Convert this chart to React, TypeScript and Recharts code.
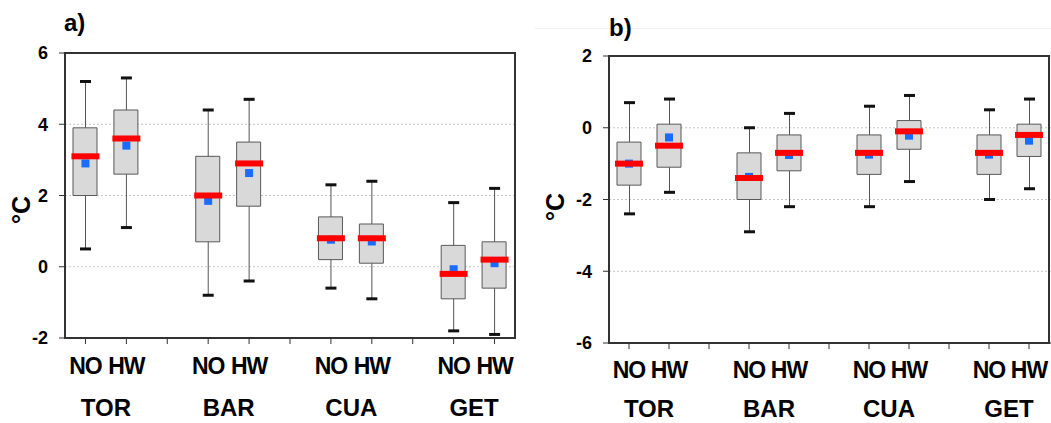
import React from "react"
import {
  ComposedChart,
  Bar,
  Line,
  XAxis,
  YAxis,
  CartesianGrid,
  ReferenceArea,
} from "recharts"

// 11 slots on the x axis: NO / HW per station, with an empty slot between stations
const SLOTS = ["NO", "HW", "", "NO", "HW", "", "NO", "HW", "", "NO", "HW"]
const GROUPS = ["TOR", "BAR", "CUA", "GET"]
const GROUP_TICKS = [1, 4, 7, 10]

// panel a) — boxes in order TOR NO, TOR HW, BAR NO, BAR HW, CUA NO, CUA HW, GET NO, GET HW
const A_MIN = [0.5, 1.1, -0.8, -0.4, -0.6, -0.9, -1.8, -1.9]
const A_Q1 = [2.0, 2.6, 0.7, 1.7, 0.2, 0.1, -0.9, -0.6]
const A_MED = [3.1, 3.6, 2.0, 2.9, 0.8, 0.8, -0.2, 0.2]
const A_MEAN = [2.9, 3.4, 1.85, 2.63, 0.76, 0.71, -0.07, 0.1]
const A_Q3 = [3.9, 4.4, 3.1, 3.5, 1.4, 1.2, 0.6, 0.7]
const A_MAX = [5.2, 5.3, 4.4, 4.7, 2.3, 2.4, 1.8, 2.2]
const A_TICKS = [-2, 0, 2, 4, 6]

// panel b)
const B_MIN = [-2.4, -1.8, -2.9, -2.2, -2.2, -1.5, -2.0, -1.7]
const B_Q1 = [-1.6, -1.1, -2.0, -1.2, -1.3, -0.6, -1.3, -0.8]
const B_MED = [-1.0, -0.5, -1.4, -0.7, -0.7, -0.1, -0.7, -0.2]
const B_MEAN = [-1.0, -0.27, -1.37, -0.76, -0.75, -0.22, -0.75, -0.36]
const B_Q3 = [-0.4, 0.1, -0.7, -0.2, -0.2, 0.2, -0.2, 0.1]
const B_MAX = [0.7, 0.8, 0.0, 0.4, 0.6, 0.9, 0.5, 0.8]
const B_TICKS = [-6, -4, -2, 0, 2]

const FONT = '"Liberation Sans", Arial, sans-serif'

function buildRows(mins: number[], q1: number[], med: number[], mean: number[], q3: number[], maxs: number[]) {
  let k = 0
  return SLOTS.map((slot, i) => {
    if (!slot) return { slot, pos: i + 0.5, whisker: null, box: null, med: null, mean: null }
    const row = {
      slot,
      pos: i + 0.5,
      whisker: [mins[k], maxs[k]],
      box: [q1[k], q3[k]],
      med: med[k],
      mean: mean[k],
    }
    k++
    return row
  })
}

const dataA = buildRows(A_MIN, A_Q1, A_MED, A_MEAN, A_Q3, A_MAX)
const dataB = buildRows(B_MIN, B_Q1, B_MED, B_MEAN, B_Q3, B_MAX)

const WhiskerShape = (props: any) => {
  const { x, y, width, height } = props
  if (x == null || y == null || height == null || isNaN(y)) return <g />
  const top = Math.min(y, y + height)
  const bottom = Math.max(y, y + height)
  const cx = x + width / 2
  return (
    <g>
      <line x1={cx} x2={cx} y1={top} y2={bottom} stroke="#555" strokeWidth={1} />
      <line x1={x} x2={x + width} y1={top} y2={top} stroke="#111" strokeWidth={3} />
      <line x1={x} x2={x + width} y1={bottom} y2={bottom} stroke="#111" strokeWidth={3} />
    </g>
  )
}

const MedianDot = (props: any) => {
  const { cx, cy } = props
  if (cx == null || cy == null || isNaN(cy)) return <g key={props.key} />
  return <rect key={props.key} x={cx - 14} y={cy - 3} width={28} height={6} fill="#ff0000" />
}

const MeanDot = (props: any) => {
  const { cx, cy } = props
  if (cx == null || cy == null || isNaN(cy)) return <g key={props.key} />
  return <rect key={props.key} x={cx - 4} y={cy - 4} width={8} height={8} fill="#1a6cff" />
}

interface PanelProps {
  data: any[]
  domain: [number, number]
  ticks: number[]
  width: number
  margin: { top: number; right: number; bottom: number; left: number }
  padRight: number
  mainMargin: number
  groupMargin: number
}

function BoxPanel({ data, domain, ticks, width, margin, padRight, mainMargin, groupMargin }: PanelProps) {
  const pad = { left: 0, right: padRight }
  return (
    <ComposedChart width={width} height={423} data={data} margin={margin}>
      <CartesianGrid xAxisId={0} vertical={false} strokeDasharray="2 2" stroke="#c4c4c4" />
      <XAxis
        xAxisId={0}
        dataKey="slot"
        interval={0}
        padding={pad}
        height={35}
        tickSize={6}
        tickMargin={mainMargin}
        axisLine={{ stroke: "#333" }}
        tickLine={{ stroke: "#333" }}
        tick={{ fontSize: 23, fontWeight: "bold", fill: "#000", fontFamily: FONT, letterSpacing: -1 }}
      />
      <XAxis
        xAxisId={1}
        type="number"
        dataKey="pos"
        domain={[0, SLOTS.length]}
        allowDataOverflow
        ticks={GROUP_TICKS}
        interval={0}
        padding={pad}
        height={45}
        tickSize={0}
        tickMargin={groupMargin}
        axisLine={false}
        tickLine={false}
        tickFormatter={(v: number) => GROUPS[GROUP_TICKS.indexOf(v)]}
        tick={{ fontSize: 24, fontWeight: "bold", fill: "#000", fontFamily: FONT }}
      />
      <XAxis xAxisId={2} dataKey="slot" hide padding={pad} />
      <YAxis
        domain={domain}
        ticks={ticks}
        interval={0}
        allowDataOverflow
        width={40}
        tickSize={6}
        tickMargin={11}
        axisLine={{ stroke: "#333" }}
        tickLine={{ stroke: "#333" }}
        tick={{ fontSize: 18, fontWeight: "bold", fill: "#000", fontFamily: FONT }}
      />
      <ReferenceArea
        xAxisId={0}
        y1={domain[0]}
        y2={domain[1]}
        fill="none"
        stroke="#333"
        strokeWidth={2}
        ifOverflow="visible"
      />
      <Bar xAxisId={2} dataKey="whisker" barSize={11} shape={WhiskerShape} isAnimationActive={false} />
      <Bar
        xAxisId={0}
        dataKey="box"
        barSize={24}
        fill="#d9d9d9"
        stroke="#595959"
        strokeWidth={1}
        isAnimationActive={false}
      />
      <Line xAxisId={0} dataKey="mean" stroke="none" dot={MeanDot} activeDot={false} isAnimationActive={false} />
      <Line xAxisId={0} dataKey="med" stroke="none" dot={MedianDot} activeDot={false} isAnimationActive={false} />
    </ComposedChart>
  )
}

const labelStyle: React.CSSProperties = {
  position: "absolute",
  fontFamily: FONT,
  fontWeight: "bold",
  color: "#000",
  lineHeight: 1,
  whiteSpace: "nowrap",
}

export default function App() {
  return (
    <div
      style={{
        position: "absolute",
        left: 0,
        top: 0,
        width: 1051,
        height: 423,
        overflow: "hidden",
        background: "#fff",
      }}
    >
      <div style={{ position: "absolute", left: 535, top: 28, width: 516, height: 1, background: "#efefef" }} />

      <div style={{ position: "absolute", left: 0, top: 0 }}>
        <BoxPanel
          data={dataA}
          domain={[-2, 6]}
          ticks={A_TICKS}
          width={530}
          margin={{ top: 53, right: 15, bottom: 5, left: 25 }}
          padRight={0}
          mainMargin={14}
          groupMargin={26}
        />
      </div>
      <div style={{ position: "absolute", left: 520, top: 0 }}>
        <BoxPanel
          data={dataB}
          domain={[-6, 2]}
          ticks={B_TICKS}
          width={545}
          margin={{ top: 56, right: 4, bottom: 0, left: 49 }}
          padRight={12}
          mainMargin={13}
          groupMargin={22}
        />
      </div>

      <div style={{ ...labelStyle, left: 64, top: 11, fontSize: 24 }}>a)</div>
      <div style={{ ...labelStyle, left: 609, top: 16, fontSize: 24 }}>b)</div>

      <div
        style={{
          ...labelStyle,
          left: 21,
          top: 210,
          fontSize: 25,
          transform: "translate(-50%, -50%) rotate(-90deg)",
        }}
      >
        °C
      </div>
      <div
        style={{
          ...labelStyle,
          left: 555,
          top: 207,
          fontSize: 25,
          transform: "translate(-50%, -50%) rotate(-90deg)",
        }}
      >
        °C
      </div>
    </div>
  )
}
